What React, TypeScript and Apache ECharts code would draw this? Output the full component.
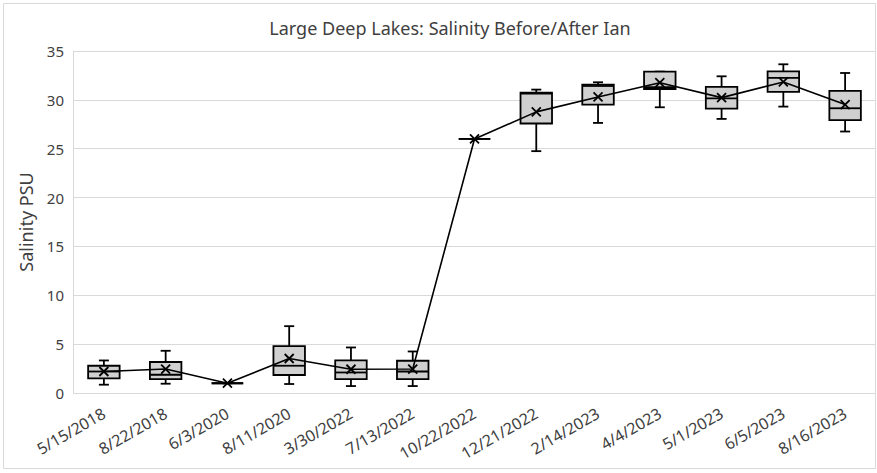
import React, { useEffect, useRef } from "react";
import * as echarts from "echarts";

const categories = [
  "5/15/2018", "8/22/2018", "6/3/2020", "8/11/2020", "3/30/2022", "7/13/2022",
  "10/22/2022", "12/21/2022", "2/14/2023", "4/4/2023", "5/1/2023", "6/5/2023", "8/16/2023",
];
const whiskerLow = [0.85, 0.95, 1.0, 0.92, 0.71, 0.71, 26.0, 24.75, 27.64, 29.24, 28.05, 29.31, 26.76];
const quartile1 = [1.49, 1.43, 1.0, 1.84, 1.43, 1.43, 26.0, 27.58, 29.52, 31.11, 29.11, 30.81, 27.92];
const medians = [2.2, 1.87, 1.0, 2.79, 2.1, 2.2, 26.0, 30.64, 31.42, 31.3, 30.16, 32.24, 29.14];
const quartile3 = [2.79, 3.17, 1.0, 4.8, 3.33, 3.3, 26.0, 30.75, 31.56, 32.89, 31.32, 32.92, 30.91];
const whiskerHigh = [3.33, 4.32, 1.0, 6.84, 4.66, 4.25, 26.0, 31.05, 31.8, 32.89, 32.41, 33.64, 32.75];
const means = [2.2, 2.45, 1.0, 3.53, 2.43, 2.45, 26.0, 28.77, 30.3, 31.76, 30.23, 31.83, 29.52];
const yTicks = [0, 5, 10, 15, 20, 25, 30, 35];

const TITLE = "Large Deep Lakes: Salinity Before/After Ian";
const Y_NAME = "Salinity PSU";
const FONT = "'Noto Sans', 'Open Sans', sans-serif";
const TEXT = "#404040";

export default function App() {
  const ref = useRef<HTMLDivElement>(null);
  useEffect(() => {
    document.body.style.margin = "0";
    const chart = echarts.init(ref.current!, null, { renderer: "svg" });
    const boxData = categories.map((_, i) => [
      i, whiskerLow[i], quartile1[i], medians[i], quartile3[i], whiskerHigh[i],
    ]);
    const stroke = { stroke: "#000", lineWidth: 1.8 };
    chart.setOption({
      animation: false,
      backgroundColor: "#fff",
      textStyle: { fontFamily: FONT },
      grid: { left: 73, right: 1, top: 51, bottom: 80 },
      graphic: [
        {
          type: "rect",
          shape: { x: 3.5, y: 3.5, width: 872, height: 465 },
          style: { fill: "none", stroke: "#D9D9D9", lineWidth: 1 },
          silent: true,
          z: -10,
        },
        {
          type: "text",
          x: 450,
          y: 28,
          style: {
            text: TITLE,
            fill: TEXT,
            font: `18px ${FONT}`,
            textAlign: "center",
            textVerticalAlign: "middle",
          },
        },
      ],
      xAxis: {
        type: "category",
        data: categories,
        axisLine: { show: false },
        axisTick: { show: false },
        axisLabel: { rotate: 30, color: TEXT, fontSize: 16, margin: 19, interval: 0, fontFamily: FONT },
        splitLine: { show: false },
      },
      yAxis: {
        type: "value",
        min: 0,
        max: 35,
        interval: 5,
        name: Y_NAME,
        nameLocation: "middle",
        nameGap: 38,
        nameTextStyle: { color: TEXT, fontSize: 18, fontFamily: FONT },
        axisLine: { show: true, lineStyle: { color: "#D9D9D9", width: 1 } },
        axisTick: { show: false },
        axisLabel: {
          color: TEXT,
          fontSize: 15,
          margin: 9,
          fontFamily: FONT,
          formatter: (v: number) => (yTicks.includes(v) ? String(v) : ""),
        },
        splitLine: { show: true, lineStyle: { color: "#D9D9D9", width: 1 } },
      },
      series: [
        {
          type: "custom",
          data: boxData,
          encode: { x: 0, y: [1, 2, 3, 4, 5] },
          z: 2,
          renderItem: (params: any, api: any) => {
            const idx = api.value(0);
            const wl = api.coord([idx, api.value(1)]);
            const q1 = api.coord([idx, api.value(2)]);
            const md = api.coord([idx, api.value(3)]);
            const q3 = api.coord([idx, api.value(4)]);
            const wh = api.coord([idx, api.value(5)]);
            const bw = api.size([1, 0])[0] * 0.51;
            const cx = wl[0];
            const cap = 10;
            return {
              type: "group",
              children: [
                { type: "line", shape: { x1: cx, y1: wh[1], x2: cx, y2: q3[1] }, style: stroke },
                { type: "line", shape: { x1: cx, y1: q1[1], x2: cx, y2: wl[1] }, style: stroke },
                { type: "line", shape: { x1: cx - cap / 2, y1: wh[1], x2: cx + cap / 2, y2: wh[1] }, style: stroke },
                { type: "line", shape: { x1: cx - cap / 2, y1: wl[1], x2: cx + cap / 2, y2: wl[1] }, style: stroke },
                {
                  type: "rect",
                  shape: { x: cx - bw / 2, y: q3[1], width: bw, height: q1[1] - q3[1] },
                  style: { fill: "#D0D0D0", stroke: "#000", lineWidth: 1.8 },
                },
                { type: "line", shape: { x1: cx - bw / 2, y1: md[1], x2: cx + bw / 2, y2: md[1] }, style: stroke },
              ],
            };
          },
        },
        {
          type: "line",
          data: means,
          z: 5,
          symbol: "path://M0,0L10,10M10,0L0,10",
          symbolSize: 9,
          lineStyle: { color: "#000", width: 1.6 },
          itemStyle: { color: "#000", borderColor: "#000", borderWidth: 1.8 },
        },
      ],
    });
    return () => chart.dispose();
  }, []);
  return <div ref={ref} style={{ width: 877, height: 473 }} />;
}
